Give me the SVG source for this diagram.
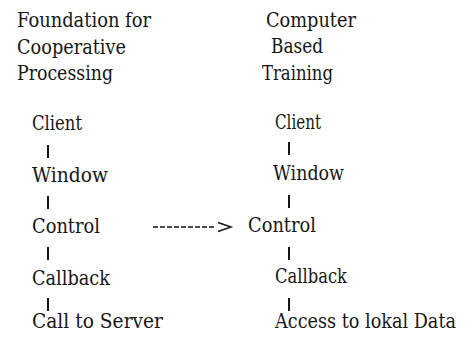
<svg xmlns="http://www.w3.org/2000/svg" width="473" height="342" viewBox="0 0 473 342">
<style>
text{font-family:'DejaVu Serif',serif;font-size:20px;fill:#161616;}
.bar{stroke:#161616;stroke-width:2;}
.dash{stroke:#161616;stroke-width:1.4;stroke-dasharray:5 2;fill:none;}
.head{stroke:#161616;stroke-width:1.5;fill:none;}
</style>
<rect width="473" height="342" fill="#ffffff"/>
<g id="title-left">
<text x="17" y="27" textLength="134" lengthAdjust="spacingAndGlyphs">Foundation for</text>
<text x="17" y="54" textLength="109" lengthAdjust="spacingAndGlyphs">Cooperative</text>
<text x="17" y="80" textLength="96" lengthAdjust="spacingAndGlyphs">Processing</text>
</g>
<g id="title-right">
<text x="266" y="27" textLength="90" lengthAdjust="spacingAndGlyphs">Computer</text>
<text x="271" y="53" textLength="52" lengthAdjust="spacingAndGlyphs">Based</text>
<text x="262" y="80" textLength="71" lengthAdjust="spacingAndGlyphs">Training</text>
</g>
<g id="left-client"><text x="32" y="130" textLength="50" lengthAdjust="spacingAndGlyphs">Client</text></g>
<g id="left-window"><text x="32" y="182" textLength="76" lengthAdjust="spacingAndGlyphs">Window</text></g>
<g id="left-control"><text x="32" y="233" textLength="68" lengthAdjust="spacingAndGlyphs">Control</text></g>
<g id="left-callback"><text x="32" y="285" textLength="78" lengthAdjust="spacingAndGlyphs">Callback</text></g>
<g id="left-server"><text x="32" y="328" textLength="131" lengthAdjust="spacingAndGlyphs">Call to Server</text></g>
<g id="right-client"><text x="275" y="129" textLength="46" lengthAdjust="spacingAndGlyphs">Client</text></g>
<g id="right-window"><text x="273" y="180" textLength="71" lengthAdjust="spacingAndGlyphs">Window</text></g>
<g id="right-control"><text x="248" y="232" textLength="68" lengthAdjust="spacingAndGlyphs">Control</text></g>
<g id="right-callback"><text x="275" y="283" textLength="72" lengthAdjust="spacingAndGlyphs">Callback</text></g>
<g id="right-data"><text x="275" y="328" textLength="181" lengthAdjust="spacingAndGlyphs">Access to lokal Data</text></g>
<g id="connectors">
<line class="bar" x1="48" y1="145" x2="48" y2="158"/>
<line class="bar" x1="48" y1="196" x2="48" y2="209"/>
<line class="bar" x1="48" y1="247" x2="48" y2="260"/>
<line class="bar" x1="48" y1="298" x2="48" y2="311"/>
<line class="bar" x1="289" y1="142" x2="289" y2="155"/>
<line class="bar" x1="289" y1="195" x2="289" y2="208"/>
<line class="bar" x1="289" y1="247" x2="289" y2="260"/>
<line class="bar" x1="289" y1="298" x2="289" y2="311"/>
<line class="dash" x1="153" y1="227" x2="216" y2="227"/>
<polyline class="head" points="218,222.5 231,227 218,231.5"/>
</g>
</svg>
